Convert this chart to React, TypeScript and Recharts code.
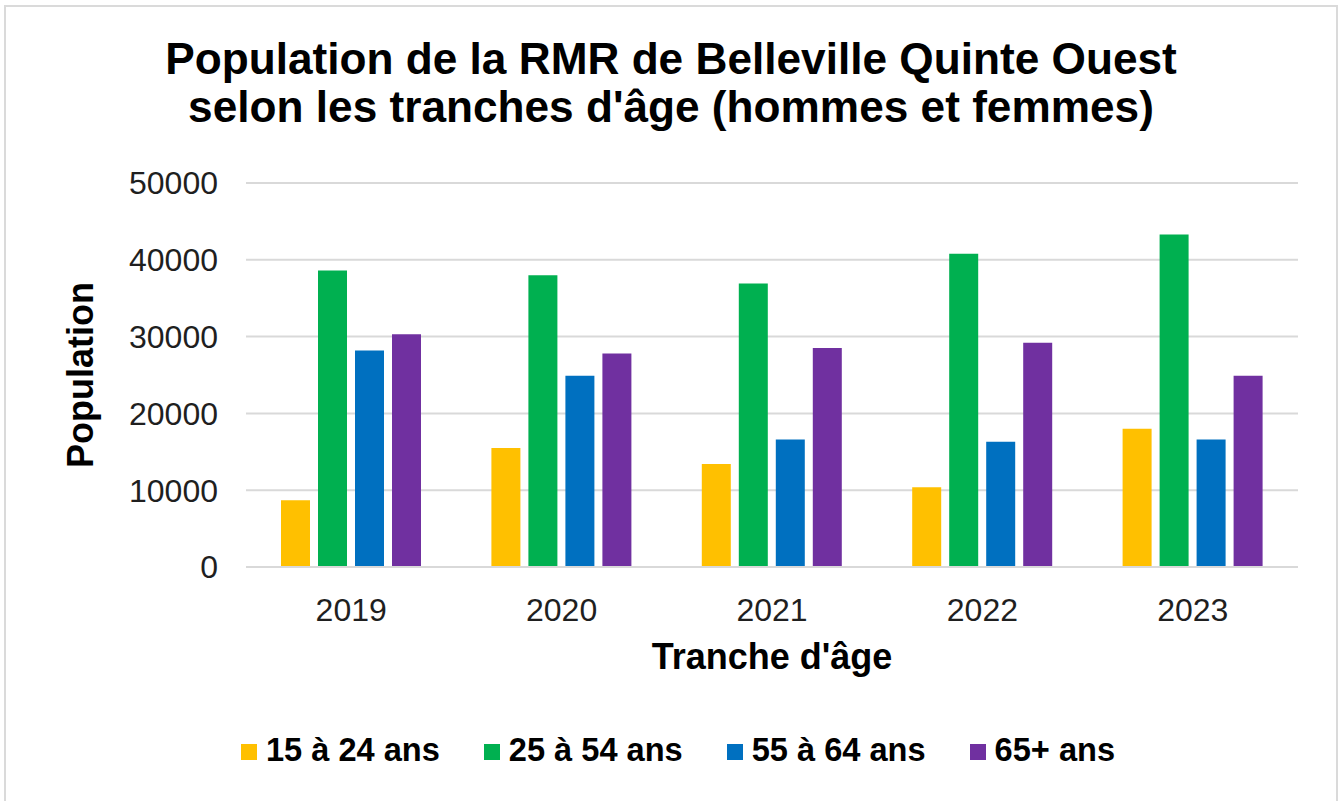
import { BarChart, Bar, XAxis, YAxis, CartesianGrid, Legend } from 'recharts';

const years = ['2019', '2020', '2021', '2022', '2023'];
const age15to24 = [8700, 15500, 13400, 10400, 18000];
const age25to54 = [38600, 38000, 36900, 40800, 43300];
const age55to64 = [28200, 24900, 16600, 16300, 16600];
const age65plus = [30300, 27800, 28500, 29200, 24900];
const yTicks = [0, 10000, 20000, 30000, 40000, 50000];

const series = [
  { key: 'a15', name: '15 à 24 ans', color: '#FFC000' },
  { key: 'a25', name: '25 à 54 ans', color: '#00B050' },
  { key: 'a55', name: '55 à 64 ans', color: '#0070C0' },
  { key: 'a65', name: '65+ ans', color: '#7030A0' },
];

const data = years.map((year, i) => ({
  year,
  a15: age15to24[i],
  a25: age25to54[i],
  a55: age55to64[i],
  a65: age65plus[i],
}));

const font = '"Liberation Sans", Arial, sans-serif';

function LegendRow() {
  return (
    <div
      style={{
        height: 40,
        display: 'flex',
        justifyContent: 'center',
        alignItems: 'center',
        paddingLeft: 58,
        fontFamily: font,
        fontWeight: 700,
        fontSize: 32.6,
        color: '#000',
      }}
    >
      {series.map((s) => (
        <div key={s.key} style={{ display: 'flex', alignItems: 'center', margin: '0 22px' }}>
          <span style={{ width: 16, height: 16, background: s.color, marginRight: 9, marginTop: 4 }} />
          <span>{s.name}</span>
        </div>
      ))}
    </div>
  );
}

export default function App() {
  return (
    <div
      style={{
        position: 'absolute',
        left: 0,
        top: 0,
        width: 1339,
        height: 801,
        overflow: 'hidden',
        background: '#fff',
        fontFamily: font,
      }}
    >
      <div
        style={{
          position: 'absolute',
          left: 4,
          top: 5,
          width: 1330,
          height: 820,
          border: '2px solid #dadada',
        }}
      />
      <div
        style={{
          position: 'absolute',
          left: 0,
          top: 35,
          width: 1342,
          textAlign: 'center',
          fontSize: 44.2,
          fontWeight: 700,
          lineHeight: '48px',
          color: '#000',
        }}
      >
        Population de la RMR de Belleville Quinte Ouest
        <br />
        selon les tranches d'âge (hommes et femmes)
      </div>
      <div style={{ position: 'absolute', left: 0, top: 0 }}>
        <BarChart
          width={1339}
          height={801}
          data={data}
          margin={{ top: 183, right: 41, left: 0, bottom: 31 }}
          barSize={29}
          barGap={8}
        >
          <CartesianGrid vertical={false} stroke="#d9d9d9" strokeWidth={2} />
          <XAxis
            dataKey="year"
            height={163}
            axisLine={{ stroke: '#d9d9d9', strokeWidth: 2 }}
            tickLine={false}
            tickSize={0}
            tickMargin={31}
            tick={{ fill: '#1f1f1f', fontSize: 32, fontFamily: font }}
            label={{
              value: "Tranche d'âge",
              position: 'insideBottom',
              offset: 61,
              style: { fontSize: 36, fontWeight: 700, fill: '#000', fontFamily: font },
            }}
          />
          <YAxis
            width={246}
            domain={[0, 50000]}
            ticks={yTicks}
            axisLine={false}
            tickLine={false}
            tickSize={0}
            tickMargin={28}
            tick={{ fill: '#1f1f1f', fontSize: 32, fontFamily: font }}
            label={{
              value: 'Population',
              angle: -90,
              position: 'insideLeft',
              offset: 80,
              style: { textAnchor: 'middle', fontSize: 36, fontWeight: 700, fill: '#000', fontFamily: font },
            }}
          />
          <Legend verticalAlign="bottom" content={() => <LegendRow />} />
          {series.map((s) => (
            <Bar key={s.key} dataKey={s.key} name={s.name} fill={s.color} isAnimationActive={false} />
          ))}
        </BarChart>
      </div>
    </div>
  );
}
